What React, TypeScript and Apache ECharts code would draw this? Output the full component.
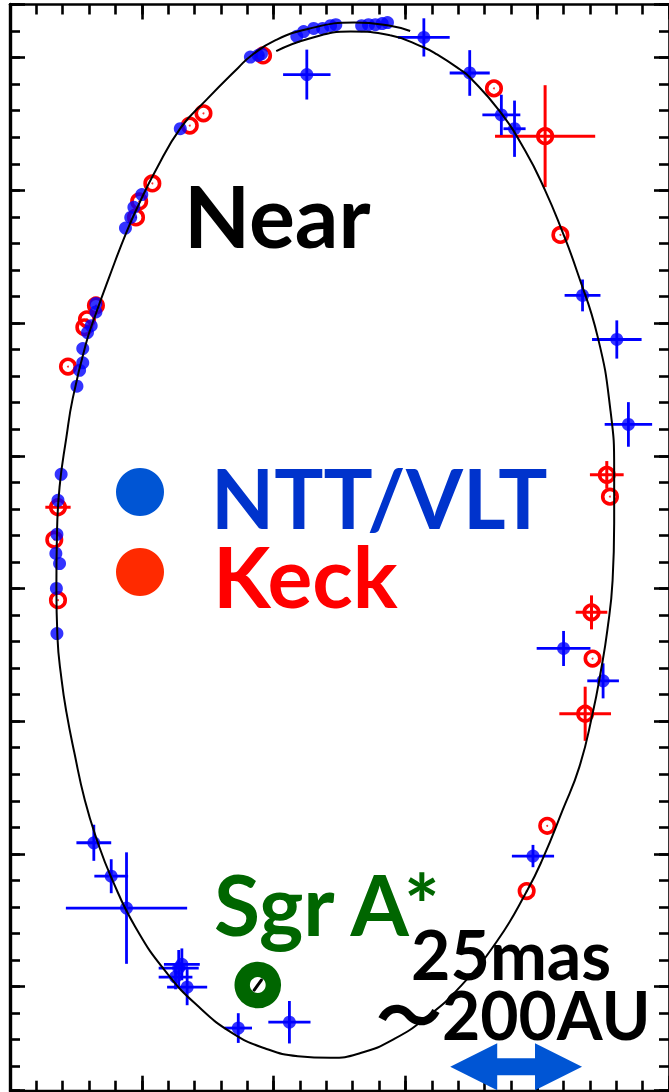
import React, { useEffect, useRef } from "react";
import * as echarts from "echarts";

// Axis extents (mas, measured from the frame's left / top edge)
const X_MIN = 0;
const X_MAX = 125;
const Y_MIN = 0;
const Y_MAX = 204.6;
const MINOR_STEP = 5;
const MAJOR_STEP = 25;
const Y_MAJOR_OFFSET = 10; // major y ticks sit at 10, 35, 60 ... from the top

// Fitted orbit
const orbit: number[][] = [
  [75.9, 5.0], [72.1, 4.0], [65.3, 3.4], [56.5, 4.6], [50.2, 6.8], [45.8, 9.6], [43.3, 11.9],
  [37.1, 18.1], [32.4, 23.2], [27.6, 31.3], [24.5, 37.5], [22.0, 43.1], [18.8, 51.4], [16.3, 58.2],
  [14.4, 63.9], [11.9, 74.2], [10.7, 81.5], [9.4, 90.9], [8.9, 100.3], [8.8, 109.7], [9.0, 119.2],
  [9.8, 127.3], [10.7, 133.3], [12.2, 140.9], [14.2, 149.9], [16.5, 157.4], [19.2, 164.4],
  [23.8, 173.8], [29.8, 182.5], [35.8, 188.8], [42.1, 193.7], [48.3, 196.6], [54.6, 198.1],
  [60.8, 198.4], [66.5, 197.5], [72.8, 194.9], [79.1, 190.7], [85.4, 185.0], [92.4, 176.4],
  [98.1, 166.9], [101.1, 160.8], [104.8, 151.8], [108.0, 143.6], [110.5, 133.6], [112.1, 125.4],
  [113.3, 117.9], [114.3, 108.5], [114.6, 97.7], [114.6, 87.8], [113.9, 76.5], [111.5, 62.7],
  [107.5, 50.1], [104.7, 42.6], [101.5, 35.0], [97.7, 27.5], [92.8, 20.0], [87.2, 13.7],
  [85.3, 12.2], [81.0, 9.4], [78.5, 8.1], [72.1, 5.8], [64.6, 5.1], [56.5, 6.5], [50.5, 8.8],
];

// NTT/VLT positions without visible error bars [x, y]
const vltPoints: number[][] = [
  [32.3, 23.4], [45.6, 9.9], [47.1, 9.6], [47.7, 9.3], [54.4, 6.0], [55.7, 5.1], [57.6, 4.5],
  [59.3, 4.5], [60.8, 4.0], [61.8, 3.8], [66.7, 4.0], [68.0, 3.8], [69.3, 3.8], [70.6, 3.6],
  [71.6, 3.4], [25.0, 35.8], [23.5, 38.2], [22.9, 40.1], [21.9, 42.1], [16.3, 56.3], [16.3, 57.9],
  [15.4, 60.5], [14.7, 61.8], [13.8, 64.8], [13.8, 67.5], [13.2, 68.9], [12.7, 71.9], [9.7, 88.5],
  [9.1, 93.4], [8.9, 99.8], [8.7, 103.4], [9.4, 105.3], [8.8, 110.0], [8.9, 118.5],
];

// NTT/VLT positions with error bars [x, y, xErr, yErr]
const vltErrorPoints: number[][] = [
  [56.3, 13.2, 4.5, 4.7], [78.5, 6.2, 4.9, 3.6], [87.2, 12.9, 3.8, 4.3], [93.2, 20.8, 3.6, 3.8],
  [95.7, 23.4, 2.1, 5.3], [108.6, 54.8, 3.4, 3.0], [115.1, 63.1, 4.7, 3.6], [117.3, 79.1, 4.5, 4.2],
  [105.0, 121.3, 5.1, 3.3], [112.5, 127.4, 3.0, 3.3], [99.2, 160.4, 4.0, 2.1], [15.9, 157.9, 3.3, 3.4],
  [19.2, 164.2, 3.2, 3.2], [22.1, 170.2, 11.5, 10.5], [32.0, 181.5, 3.8, 3.4], [32.6, 180.8, 3.4, 3.0],
  [31.4, 183.2, 3.2, 2.3], [33.6, 185.1, 3.8, 3.4], [43.3, 192.8, 2.6, 2.8], [53.0, 191.7, 4.0, 4.0],
];

// Keck positions without visible error bars [x, y]
const keckPoints: number[][] = [
  [34.1, 22.8], [36.7, 20.5], [48.0, 9.6], [91.8, 15.8], [104.4, 43.4], [27.0, 33.7], [24.5, 37.1],
  [23.9, 40.1], [16.3, 56.7], [14.6, 59.3], [14.1, 60.8], [11.0, 68.2], [8.4, 100.8], [9.1, 112.2],
  [113.8, 92.7], [110.5, 123.2], [101.9, 154.7], [98.0, 167.0],
];

// Keck positions with error bars [x, y, xErr, yErr]
const keckErrorPoints: number[][] = [
  [101.5, 24.8, 9.5, 9.6], [9.1, 94.7, 2.4, 0], [113.2, 88.6, 3.2, 2.6], [110.3, 114.5, 3.0, 3.2],
  [109.1, 133.6, 4.9, 5.1],
];

const sgrAStar: number[][] = [[47.0, 184.7]];
// Scale bar: 25 mas [xStart, xEnd, y]
const scaleBar: number[][] = [[83.5, 108.5, 200.1]];

const BLUE = "#0000ff";
const RED = "#ff0000";
const GREEN = "#006600";
const LEGEND_BLUE = "#0055d4";
const LEGEND_RED = "#ff2a00";
const FONT = "Lato, 'Open Sans', 'Noto Sans CJK JP', sans-serif";

function errorBarRenderer(color: string, width: number) {
  return (params: any, api: any) => {
    const x = api.value(0);
    const y = api.value(1);
    const ex = api.value(2);
    const ey = api.value(3);
    const children: any[] = [];
    if (ex > 0) {
      const a = api.coord([x - ex, y]);
      const b = api.coord([x + ex, y]);
      children.push({ type: "line", shape: { x1: a[0], y1: a[1], x2: b[0], y2: b[1] }, style: { stroke: color, lineWidth: width } });
    }
    if (ey > 0) {
      const a = api.coord([x, y - ey]);
      const b = api.coord([x, y + ey]);
      children.push({ type: "line", shape: { x1: a[0], y1: a[1], x2: b[0], y2: b[1] }, style: { stroke: color, lineWidth: width } });
    }
    return { type: "group", children };
  };
}

const tickStyle = { color: "#000", width: 2.6 };

function xAxes() {
  const base = { type: "value", min: X_MIN, max: X_MAX, axisLabel: { show: false }, splitLine: { show: false } };
  return [
    { ...base, position: "bottom", interval: MINOR_STEP, axisLine: { show: true, onZero: false, lineStyle: { color: "#000", width: 2.4 } }, axisTick: { inside: true, length: 10, lineStyle: tickStyle } },
    { ...base, position: "bottom", interval: MAJOR_STEP, axisLine: { show: false, onZero: false }, axisTick: { inside: true, length: 15, lineStyle: tickStyle } },
    { ...base, position: "top", interval: MINOR_STEP, axisLine: { show: true, onZero: false, lineStyle: { color: "#000", width: 2.6 } }, axisTick: { inside: true, length: 10, lineStyle: tickStyle } },
    { ...base, position: "top", interval: MAJOR_STEP, axisLine: { show: false, onZero: false }, axisTick: { inside: true, length: 15, lineStyle: tickStyle } },
  ];
}

function yAxes() {
  const base = { type: "value", inverse: true, axisLabel: { show: false }, splitLine: { show: false } };
  const minor = { ...base, min: Y_MIN, max: Y_MAX, interval: MINOR_STEP };
  const major = { ...base, min: Y_MIN - Y_MAJOR_OFFSET, max: Y_MAX - Y_MAJOR_OFFSET, minInterval: MAJOR_STEP, maxInterval: MAJOR_STEP };
  return [
    { ...minor, position: "left", axisLine: { show: true, onZero: false, lineStyle: { color: "#000", width: 3.4 } }, axisTick: { inside: true, length: 10, lineStyle: tickStyle } },
    { ...major, position: "left", axisLine: { show: false, onZero: false }, axisTick: { inside: true, length: 15, lineStyle: tickStyle } },
    { ...minor, position: "right", axisLine: { show: true, onZero: false, lineStyle: { color: "#000", width: 2.6 } }, axisTick: { inside: true, length: 10, lineStyle: tickStyle } },
    { ...major, position: "right", axisLine: { show: false, onZero: false }, axisTick: { inside: true, length: 15, lineStyle: tickStyle } },
  ];
}

function label(text: string, x: number, y: number, size: number, color: string) {
  return {
    type: "text", x, y, silent: true,
    style: { text, fill: color, fontFamily: FONT, fontWeight: "bold", fontSize: size, textAlign: "left", textVerticalAlign: "middle" },
  };
}

function buildOption() {
  const allVlt = [...vltPoints, ...vltErrorPoints.map((p) => [p[0], p[1]])];
  const allKeck = [...keckPoints, ...keckErrorPoints.map((p) => [p[0], p[1]])];
  return {
    animation: false,
    backgroundColor: "#ffffff",
    grid: { left: 10, top: 4.5, right: -4.75, bottom: 1.3, containLabel: false },
    xAxis: xAxes(),
    yAxis: yAxes(),
    series: [
      { type: "custom", name: "Keck err", silent: true, clip: false, data: keckErrorPoints, renderItem: errorBarRenderer(RED, 3), z: 2 },
      {
        type: "scatter", name: "Keck", silent: true, data: allKeck, symbol: "circle", symbolSize: 14.5,
        itemStyle: { color: "rgba(255,255,255,0)", borderColor: RED, borderWidth: 3.6, opacity: 1 }, z: 3,
      },
      { type: "scatter", name: "Keck centre", silent: true, data: allKeck, symbol: "circle", symbolSize: 2, itemStyle: { color: RED }, z: 3 },
      { type: "custom", name: "NTT/VLT err", silent: true, clip: false, data: vltErrorPoints, renderItem: errorBarRenderer(BLUE, 2.8), z: 4 },
      { type: "scatter", name: "NTT/VLT", silent: true, data: allVlt, symbol: "circle", symbolSize: 13, itemStyle: { color: BLUE }, z: 4 },
      {
        type: "line", name: "orbit", silent: true, data: orbit, smooth: 0.5, showSymbol: false, symbol: "none",
        lineStyle: { color: "#000", width: 2 }, z: 5,
      },
      {
        type: "custom", name: "Sgr A*", silent: true, clip: false, data: sgrAStar, z: 6,
        renderItem: (params: any, api: any) => {
          const c = api.coord([api.value(0), api.value(1)]);
          return {
            type: "group",
            children: [
              { type: "circle", shape: { cx: c[0], cy: c[1], r: 15.6 }, style: { fill: "none", stroke: GREEN, lineWidth: 15.4 } },
              { type: "line", shape: { x1: c[0] - 3.6, y1: c[1] + 5, x2: c[0] + 3.6, y2: c[1] - 5 }, style: { stroke: "#000", lineWidth: 3, lineCap: "round" } },
            ],
          };
        },
      },
      {
        type: "custom", name: "scale bar", silent: true, clip: false, data: scaleBar, z: 6,
        renderItem: (params: any, api: any) => {
          const l = api.coord([api.value(0), api.value(2)]);
          const r = api.coord([api.value(1), api.value(2)]);
          const y = l[1];
          const head = 47;
          const hh = 23.5;
          const sh = 8.5;
          return {
            type: "polygon",
            shape: {
              points: [
                [l[0], y], [l[0] + head, y - hh], [l[0] + head, y - sh], [r[0] - head, y - sh], [r[0] - head, y - hh],
                [r[0], y], [r[0] - head, y + hh], [r[0] - head, y + sh], [l[0] + head, y + sh], [l[0] + head, y + hh],
              ],
            },
            style: { fill: LEGEND_BLUE },
          };
        },
      },
    ],
    graphic: [
      { type: "circle", shape: { cx: 140, cy: 492, r: 24 }, style: { fill: LEGEND_BLUE }, silent: true },
      { type: "circle", shape: { cx: 140, cy: 572, r: 24 }, style: { fill: LEGEND_RED }, silent: true },
      label("Near", 184, 214, 86, "#000"),
      label("NTT/VLT", 211, 497, 82, "#0033cc"),
      label("Keck", 213, 575, 84, RED),
      label("Sgr A*", 214, 903, 84, GREEN),
      label("25mas", 411, 953, 68, "#000"),
      label("～200AU", 376, 1014, 66, "#000"),
    ],
  };
}

export default function App() {
  const ref = useRef<HTMLDivElement>(null);
  useEffect(() => {
    const chart = echarts.init(ref.current as HTMLDivElement, null, { renderer: "svg" });
    chart.setOption(buildOption() as any);
    return () => chart.dispose();
  }, []);
  return (
    <div
      ref={ref}
      style={{ position: "absolute", left: 0, top: 0, width: 669, height: 1092, background: "#ffffff" }}
    />
  );
}
